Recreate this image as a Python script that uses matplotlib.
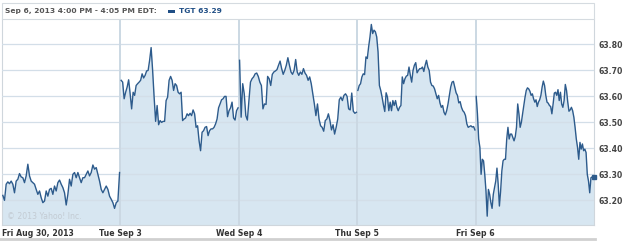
import numpy as np
import matplotlib
matplotlib.use("Agg")
import matplotlib.pyplot as plt
from matplotlib.patches import Rectangle
from matplotlib.lines import Line2D

# ---- data (5-minute TGT prices) ----
day_labels = ["Fri Aug 30, 2013", "Tue Sep 3", "Wed Sep 4", "Thu Sep 5", "Fri Sep 6"]

aug30 = [63.218, 63.199, 63.261, 63.270, 63.263, 63.273, 63.261, 63.228, 63.273, 63.280,
         63.302, 63.289, 63.286, 63.267, 63.293, 63.338, 63.293, 63.273, 63.267, 63.261,
         63.241, 63.222, 63.235, 63.209, 63.190, 63.196, 63.235, 63.215, 63.241, 63.245,
         63.222, 63.254, 63.235, 63.267, 63.277, 63.261, 63.248, 63.228, 63.181, 63.222,
         63.280, 63.254, 63.299, 63.306, 63.286, 63.306, 63.286, 63.267, 63.286, 63.286,
         63.299, 63.312, 63.293, 63.306, 63.335, 63.319, 63.325, 63.299, 63.273, 63.241,
         63.228, 63.241, 63.254, 63.241, 63.215, 63.203, 63.190, 63.168, 63.190, 63.196,
         63.306]

sep3 = [63.661, 63.654, 63.590, 63.615, 63.635, 63.663, 63.609, 63.551, 63.615, 63.603,
        63.641, 63.648, 63.654, 63.661, 63.686, 63.670, 63.680, 63.697, 63.699, 63.738,
        63.787, 63.699, 63.596, 63.503, 63.564, 63.490, 63.506, 63.499, 63.503, 63.503,
        63.583, 63.596, 63.661, 63.676, 63.661, 63.622, 63.648, 63.641, 63.615, 63.609,
        63.615, 63.506, 63.512, 63.516, 63.532, 63.525, 63.534, 63.525, 63.547, 63.532,
        63.480, 63.486, 63.428, 63.390, 63.461, 63.467, 63.480, 63.483, 63.448, 63.467,
        63.474, 63.474, 63.480, 63.493, 63.512, 63.555, 63.570, 63.586, 63.590, 63.599,
        63.599, 63.521, 63.544, 63.555, 63.577, 63.516, 63.508, 63.544, 63.555]

sep4 = [63.738, 63.519, 63.648, 63.609, 63.525, 63.508, 63.583, 63.654, 63.667, 63.674,
        63.686, 63.689, 63.676, 63.654, 63.641, 63.551, 63.570, 63.568, 63.676, 63.667,
        63.641, 63.684, 63.693, 63.697, 63.702, 63.719, 63.735, 63.706, 63.684, 63.699,
        63.719, 63.748, 63.719, 63.693, 63.684, 63.699, 63.741, 63.693, 63.680, 63.693,
        63.684, 63.706, 63.689, 63.680, 63.661, 63.674, 63.648, 63.609, 63.570, 63.525,
        63.570, 63.512, 63.486, 63.480, 63.465, 63.506, 63.512, 63.532, 63.506, 63.470,
        63.490, 63.454, 63.480, 63.512, 63.586, 63.596, 63.583, 63.603, 63.609, 63.599,
        63.551, 63.547, 63.612, 63.542, 63.534, 63.538]

sep5 = [63.622, 63.641, 63.648, 63.674, 63.686, 63.683, 63.751, 63.745, 63.790, 63.828,
        63.876, 63.841, 63.854, 63.848, 63.828, 63.770, 63.641, 63.622, 63.596, 63.566,
        63.541, 63.613, 63.596, 63.544, 63.577, 63.544, 63.583, 63.564, 63.583, 63.557,
        63.544, 63.557, 63.564, 63.674, 63.648, 63.667, 63.677, 63.680, 63.712, 63.680,
        63.654, 63.699, 63.719, 63.729, 63.690, 63.699, 63.706, 63.706, 63.712, 63.695,
        63.719, 63.738, 63.712, 63.699, 63.654, 63.641, 63.639, 63.628, 63.609, 63.590,
        63.603, 63.574, 63.557, 63.564, 63.538, 63.528, 63.544, 63.570, 63.603, 63.635,
        63.654, 63.657, 63.635, 63.613, 63.603, 63.574, 63.579, 63.557, 63.544, 63.538,
        63.525, 63.493, 63.480, 63.483, 63.486, 63.481, 63.483, 63.470]

sep6 = [63.599, 63.532, 63.435, 63.403, 63.299, 63.357, 63.351, 63.299, 63.235, 63.138,
        63.241, 63.222, 63.190, 63.168, 63.222, 63.248, 63.273, 63.323, 63.261, 63.177,
        63.235, 63.312, 63.351, 63.357, 63.357, 63.435, 63.480, 63.435, 63.454, 63.454,
        63.441, 63.428, 63.444, 63.480, 63.570, 63.532, 63.480, 63.499, 63.532, 63.564,
        63.596, 63.622, 63.632, 63.628, 63.619, 63.603, 63.609, 63.590, 63.577, 63.586,
        63.560, 63.577, 63.586, 63.603, 63.635, 63.658, 63.641, 63.603, 63.577, 63.573,
        63.564, 63.560, 63.532, 63.570, 63.612, 63.615, 63.603, 63.625, 63.583, 63.615,
        63.570, 63.557, 63.583, 63.645, 63.622, 63.577, 63.542, 63.547, 63.557, 63.544,
        63.519, 63.480, 63.435, 63.403, 63.357, 63.422, 63.396, 63.416, 63.390, 63.396,
        63.383, 63.299, 63.273, 63.228, 63.286, 63.289, 63.29]

days = [aug30, sep3, sep4, sep5, sep6]
y_ticks = [63.20, 63.30, 63.40, 63.50, 63.60, 63.70, 63.80]
last_price = 63.29
header_text = "Sep 6, 2013 4:00 PM - 4:05 PM EDT:"
legend_text = "TGT 63.29"
watermark = "\u00a9 2013 Yahoo! Inc."

# ---- style ----
LINE = "#2d5b8c"
FILL = "#d7e6f1"
GRID = "#d3dee8"
DIV = "#cbd8e3"
TXT = "#444444"
FS = 5.6

plt.rcParams['font.family'] = ['DejaVu Sans']
fig = plt.figure(figsize=(6.25, 2.42), dpi=100)
W, H = 625, 242
ax = fig.add_axes([2 / W, (H - 225) / H, 592 / W, 206 / H])

xs_all, ys_all = [], []
for d, vals in enumerate(days):
    n = len(vals)
    xs = d + (np.arange(n) + 0.5) / n
    xs_all.extend(xs)
    ys_all.extend(vals)
    ax.plot(xs, vals, color=LINE, lw=1.0, zorder=4)
xs_all = np.array(xs_all)
ys_all = np.array(ys_all)
xf = np.concatenate([[0], xs_all, [5]])
yf = np.concatenate([[ys_all[0]], ys_all, [ys_all[-1]]])
ax.fill_between(xf, yf, 63.0, color=FILL, lw=0, zorder=2)

ax.set_xlim(0, 5)
ax.set_ylim(63.104, 63.897)

for t in y_ticks:
    ax.axhline(t, color=GRID, lw=0.9, zorder=3)
for d in range(1, 5):
    ax.axvline(d, color=DIV, lw=1.4, zorder=3.5)

ax.yaxis.tick_right()
ax.set_yticks(y_ticks)
ax.set_yticklabels([f"{t:.2f}" for t in y_ticks], fontsize=FS, fontweight='bold', color=TXT)
ax.tick_params(axis='y', length=0, pad=3)
ax.set_xticks(range(5))
ax.set_xticklabels(day_labels, fontsize=FS, fontweight='bold', color="#333333")
ax.get_xticklabels()[0].set_ha('left')
ax.tick_params(axis='x', length=0, pad=3)

for s in ['left', 'right', 'bottom']:
    ax.spines[s].set_color("#cfd6dc")
    ax.spines[s].set_linewidth(0.8)
ax.spines['top'].set_visible(False)

ax.text(0.008, 0.03, watermark, transform=ax.transAxes, fontsize=FS, color="#c3cbd3", zorder=5)

# last price marker
ax.plot([5], [last_price], marker='s', ms=3.5, color=LINE, clip_on=False, zorder=6)

# header
fig.patches.append(Rectangle((2 / W, (H - 19) / H), 592 / W, 16 / H, transform=fig.transFigure,
                             facecolor='white', edgecolor="#d5dbe0", lw=0.8))
fig.text(5 / W, (H - 11) / H, header_text, fontsize=5.4, fontweight='bold', color="#555555", va='center')
fig.patches.append(Rectangle((168 / W, (H - 12.5) / H), 7 / W, 3 / H, transform=fig.transFigure,
                             facecolor="#1f4e85", edgecolor='none'))
fig.text(179 / W, (H - 11) / H, legend_text, fontsize=5.4, fontweight='bold', color="#1f4e85", va='center')

# bottom rule
fig.lines.append(Line2D([0, 595 / W], [(H - 239) / H] * 2, transform=fig.transFigure, color="#d0d0d0", lw=2))

fig.savefig("out.png", dpi=100, facecolor='white')
